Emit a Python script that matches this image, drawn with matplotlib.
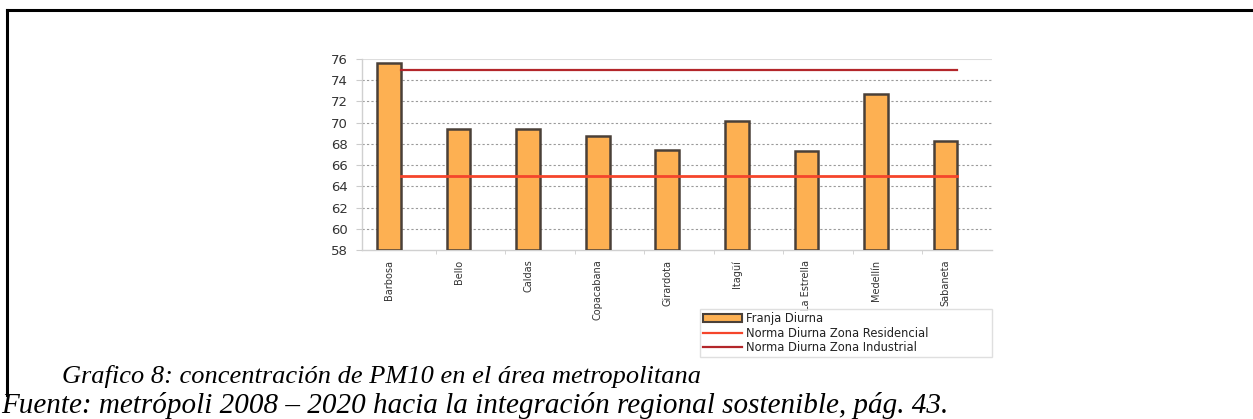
import matplotlib
matplotlib.use("Agg")
import matplotlib.pyplot as plt
from matplotlib.lines import Line2D
from matplotlib.patches import Patch

# PM10 daytime concentration by municipality
municipios = ["Barbosa", "Bello", "Caldas", "Copacabana", "Girardota",
              "Itagüí", "La Estrella", "Medellín", "Sabaneta"]
franja_diurna = [75.6, 69.4, 69.4, 68.7, 67.4, 70.2, 67.3, 72.7, 68.3]
norma_residencial = [65] * len(municipios)
norma_industrial = [75] * len(municipios)
y_ticks = list(range(58, 77, 2))

W, H = 1253, 419
fig = plt.figure(figsize=(W / 100, H / 100), dpi=100)
fig.patch.set_facecolor("white")

ax = fig.add_axes([362 / W, 1 - 250 / H, (992 - 362) / W, (250 - 59) / H])
x = list(range(len(municipios)))
bar_off = -0.17
bar_x = [i + bar_off for i in x]

ax.bar(bar_x, [v - 58 for v in franja_diurna], bottom=58, width=0.34,
       color="#FDB052", edgecolor="#4a4038", linewidth=1.8, zorder=3)
ax.plot(x, norma_industrial, color="#B3262A", lw=1.6, zorder=4)
ax.plot(x, norma_residencial, color="#F5452B", lw=2.0, zorder=4)

ax.set_xlim(-0.56, 8.5)
ax.set_ylim(58, 76)
ax.set_yticks(y_ticks)
ax.set_yticklabels([str(t) for t in y_ticks], fontsize=9.5, color="#333333",
                   family="DejaVu Sans")
ax.set_xticks(bar_x)
ax.set_xticklabels(municipios, rotation=90, fontsize=7, color="#333333",
                   family="DejaVu Sans", va="top", ha="center")
ax.tick_params(axis="x", length=0, pad=7)
ax.tick_params(axis="y", length=4, color="#cccccc", pad=6)
ax.set_xticks([i + 0.5 for i in x[:-1]], minor=True)
ax.tick_params(axis="x", which="minor", length=3, color="#cccccc")

for t in y_ticks[1:-1]:
    ax.axhline(t, color="#9a9a9a", lw=0.8, ls=(0, (2, 2)), zorder=1)
ax.axhline(76, color="#dddddd", lw=0.8, zorder=1)

for s in ["top", "right"]:
    ax.spines[s].set_visible(False)
for s in ["left", "bottom"]:
    ax.spines[s].set_color("#d0d0d0")
    ax.spines[s].set_linewidth(1.0)

handles = [
    Patch(facecolor="#FDB052", edgecolor="#4a4038", linewidth=1.5),
    Line2D([0], [0], color="#F5452B", lw=1.6),
    Line2D([0], [0], color="#B3262A", lw=1.6),
]
labels = ["Franja Diurna", "Norma Diurna Zona Residencial",
          "Norma Diurna Zona Industrial"]
leg = fig.legend(handles, labels, loc="upper left", mode="expand",
                 bbox_to_anchor=(700 / W, 1 - 356 / H, 292 / W, 47 / H),
                 prop={"family": "DejaVu Sans", "size": 8.3},
                 frameon=True, fancybox=False, edgecolor="#d8d8d8",
                 handlelength=3.4, handleheight=0.7, handletextpad=0.3,
                 labelspacing=0.15, borderpad=0.25, borderaxespad=0)
leg.get_frame().set_linewidth(1.0)
for txt in leg.get_texts():
    txt.set_color("#222222")

# Page frame
fig.add_artist(Line2D([7 / W, 1.0], [1 - 10 / H, 1 - 10 / H],
                      transform=fig.transFigure, color="black", lw=2.2))
fig.add_artist(Line2D([7 / W, 7 / W], [1 - 10 / H, 1 - 395 / H],
                      transform=fig.transFigure, color="black", lw=2.2))

fig.text(62 / W, 1 - 376 / H,
         "Grafico 8: concentración de PM10 en el área metropolitana",
         family="Liberation Serif", style="italic", fontsize=19,
         va="center", ha="left", color="black")
fig.text(1 / W, 1 - 405 / H,
         "Fuente: metrópoli 2008 – 2020 hacia la integración regional sostenible, pág. 43.",
         family="Liberation Serif", style="italic", fontsize=21,
         va="center", ha="left", color="black")

fig.savefig("out.png", dpi=100, facecolor="white")
